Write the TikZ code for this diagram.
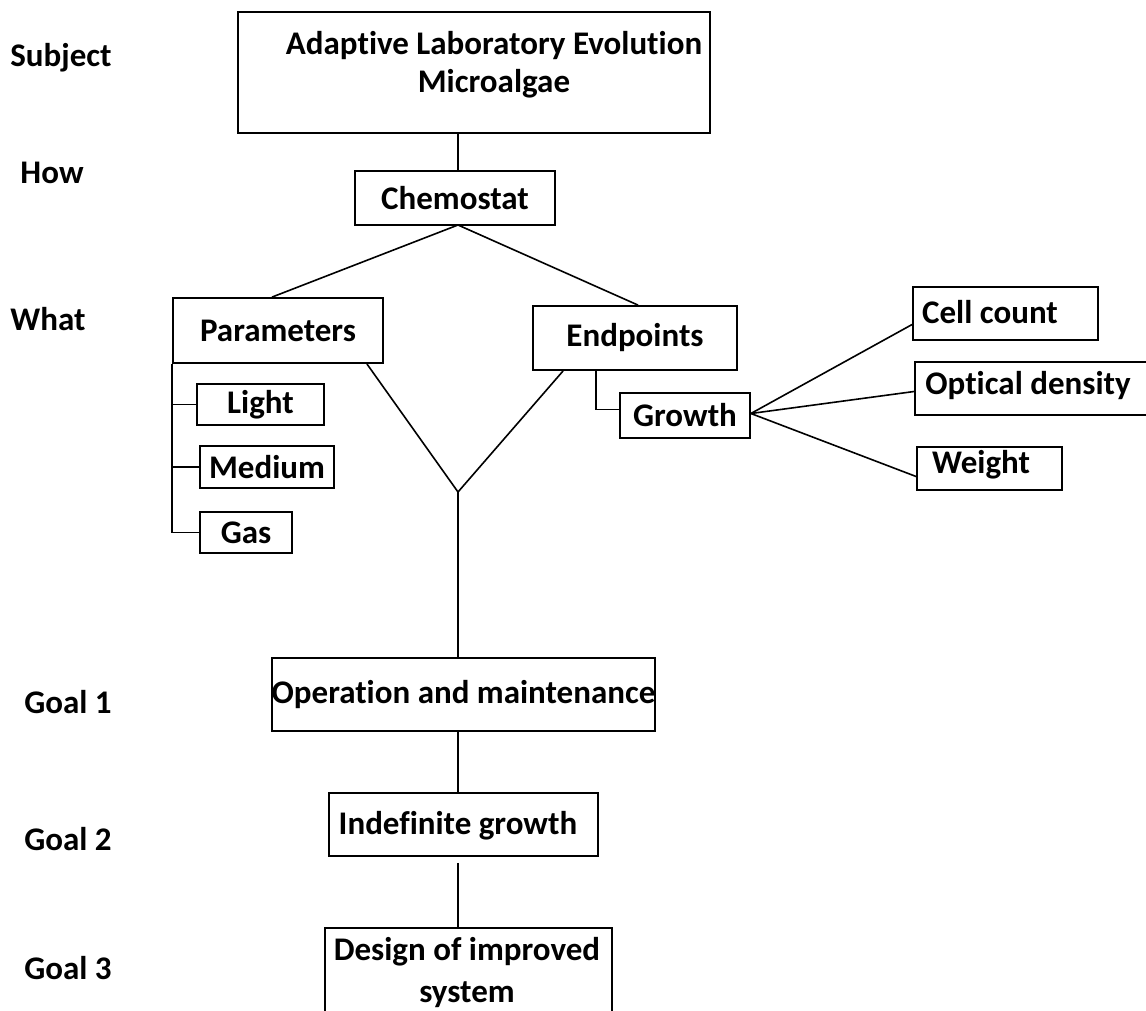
\documentclass[tikz,border=0pt]{standalone}
\usepackage{fontspec}
\setmainfont{Carlito}[Ligatures=NoCommon]
\usetikzlibrary{positioning}

\tikzset{
  box/.style={draw, line width=1.8pt, inner sep=0pt, font=\bfseries\fontsize{33}{38}\selectfont},
  txt/.style={inner sep=0pt, font=\bfseries\fontsize{33}{38}\selectfont, align=center},
  link/.style={line width=1.6pt}
}

\begin{document}
\begin{tikzpicture}[x=1pt, y=-1pt]
  \useasboundingbox (0,0) rectangle (1146,1011);

  % levels
  \node[txt] (lsubject) at (61,58) {Subject};
  \node[txt] (lhow) at (52,173) {How};
  \node[txt] (lwhat) at (48,319) {What};
  \node[txt] (lgoal1) at (68,702) {Goal 1};
  \node[txt] (lgoal2) at (68,839) {Goal 2};
  \node[txt] (lgoal3) at (68,968) {Goal 3};

  % boxes
  \node[box, minimum width=472pt, minimum height=121pt] (subject) at (474,72.5) {};
  \node[txt] (subjecttxt) at (494,65) {Adaptive Laboratory Evolution\\Microalgae};
  \node[box, minimum width=200pt, minimum height=54pt] (chem) at (455,198) {Chemostat};
  \node[box, minimum width=210pt, minimum height=65pt] (param) at (278,330.5) {Parameters};
  \node[box, minimum width=204pt, minimum height=64pt] (endp) at (635,338) {Endpoints};
  \node[box, minimum width=127pt, minimum height=41pt] (light) at (260.5,404.5) {Light};
  \node[box, minimum width=134pt, minimum height=42pt] (medium) at (267,467) {Medium};
  \node[box, minimum width=92pt, minimum height=41pt] (gas) at (246,532.5) {Gas};
  \node[box, minimum width=130pt, minimum height=45pt] (growth) at (685,415.5) {Growth};
  \node[box, minimum width=185pt, minimum height=53pt] (cell) at (1005.5,313.5) {};
  \node[txt] (celltxt) at (990,312) {Cell count};
  \node[box, minimum width=240pt, minimum height=53pt] (optical) at (1035,388.5) {};
  \node[txt] (opticaltxt) at (1028,386) {Optical density};
  \node[box, minimum width=145pt, minimum height=43pt] (weight) at (989.5,468.5) {};
  \node[txt] (weighttxt) at (981,465) {Weight};
  \node[box, minimum width=383pt, minimum height=73pt] (oper) at (463.5,694.5) {Operation and maintenance};
  \node[box, minimum width=269pt, minimum height=63pt] (indef) at (463.5,824.5) {};
  \node[txt] (indeftxt) at (458,826) {Indefinite growth};
  \node[box, minimum width=287pt, minimum height=100pt] (design) at (468.5,978) {};
  \node[txt, font=\bfseries\fontsize{33}{42}\selectfont] (designtxt) at (467,973) {Design of improved\\system};

  \coordinate (axis) at (458,0);
  \coordinate (top) at (458,225);
  \coordinate (join) at (458,492);

  % connectors
  \draw[link] (chem.north -| axis) -- (subject.south -| axis);
  \draw[link] (top) -- ([xshift=-6pt]param.north);
  \draw[link] (top) -- ([xshift=3pt]endp.north);
  \draw[link] ([xshift=-17pt]param.south east) -- (join);
  \draw[link] ([xshift=31pt]endp.south west) -- (join);
  \draw[link] (join) -- (join |- oper.north);
  \draw[link] (param.south west) |- (gas.west);
  \draw[link] (param.south west |- light.west) -- (light.west);
  \draw[link] (param.south west |- medium.west) -- (medium.west);
  \draw[link] ([xshift=-39pt]endp.south) |- ([yshift=6pt]growth.west);
  \draw[link] ([yshift=2pt]growth.east) -- ([yshift=-11pt]cell.west);
  \draw[link] ([yshift=2pt]growth.east) -- ([yshift=-3pt]optical.west);
  \draw[link] ([yshift=2pt]growth.east) -- ([yshift=-8pt]weight.west);
  \draw[link] (oper.south -| axis) -- (indef.north -| axis);
  \draw[link] ([yshift=-6pt]indef.south -| axis) -- (design.north -| axis);
\end{tikzpicture}
\end{document}
